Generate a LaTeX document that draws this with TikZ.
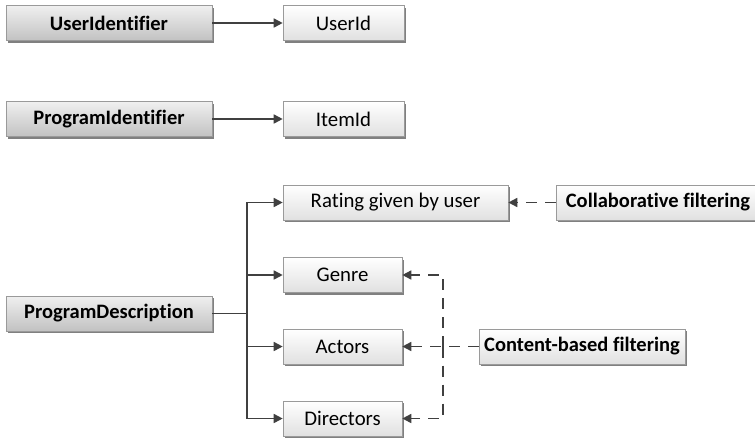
\documentclass[tikz,border=0pt]{standalone}
\usepackage{fontspec}
\setmainfont{Carlito}[Ligatures={NoCommon}]
\usetikzlibrary{arrows.meta,shadows,positioning}
\definecolor{linec}{HTML}{404040}
\definecolor{boxborder}{HTML}{9A9A9A}
\tikzset{
  basebox/.style={rectangle, draw=boxborder, line width=0.6pt, minimum height=35pt,
    inner sep=0pt, font=\fontsize{20.8}{24}\selectfont,
    drop shadow={shadow xshift=2.2pt, shadow yshift=-2.2pt, fill=black!50, opacity=1}},
  darkbox/.style={basebox, top color=black!6, bottom color=black!24, font=\fontsize{20.5}{24}\selectfont\bfseries},
  lightbox/.style={basebox, top color=white, bottom color=black!12},
  lightbold/.style={lightbox, font=\fontsize{20.5}{24}\selectfont\bfseries},
  conn/.style={draw=linec, line width=1.6pt, -{Triangle[length=9pt,width=9pt]}},
  dconn/.style={conn, dash pattern=on 11pt off 8pt},
}
\begin{document}
\begin{tikzpicture}[x=1pt,y=-1pt]
\useasboundingbox[fill=white] (0,0) rectangle (755,440);
% left boxes
\node[darkbox, minimum width=206pt] (ui) at (109,23) {UserIdentifier};
\node[darkbox, minimum width=206pt] (pi) at (109,119) {ProgramIdentifier};
\node[darkbox, minimum width=206pt] (pd) at (109,313.5) {ProgramDescription};
% right boxes
\node[lightbox, minimum width=121pt] (uid) at (343.5,23) {UserId};
\node[lightbox, minimum width=121pt] (iid) at (343.5,119) {ItemId};
\node[lightbox, minimum width=225pt] (rate) at (395.5,202.5) {Rating given by user};
\node[lightbox, minimum width=119pt] (genre) at (342.5,275) {Genre};
\node[lightbox, minimum width=119pt] (actors) at (342.5,346.5) {Actors};
\node[lightbox, minimum width=119pt] (dirs) at (342.5,418.5) {Directors};
% filtering boxes
\node[lightbold, minimum width=204pt] (collab) at (658,202.5) {Collaborative filtering};
\node[lightbold, minimum width=206pt] (cb) at (582,346.5) {Content-based filtering};
% solid connectors
\draw[conn] (ui) -- (uid);
\draw[conn] (pi) -- (iid);
\coordinate (trunk) at (247,313.5);
\draw[draw=linec, line width=1.6pt] (pd.east) -- (trunk);
\draw[conn] (trunk) |- (rate.west);
\draw[conn] (trunk) |- (genre.west);
\draw[conn] (trunk) |- (actors.west);
\draw[conn] (trunk) |- (dirs.west);
% dashed connectors
\draw[dconn] (collab.west) -- (rate.east);
\draw[dconn] (cb.west) -- (actors.east);
\coordinate (vj) at (443,346.5);
\draw[dconn] (vj) |- (genre.east);
\draw[dconn] (vj) |- (dirs.east);
\end{tikzpicture}
\end{document}
